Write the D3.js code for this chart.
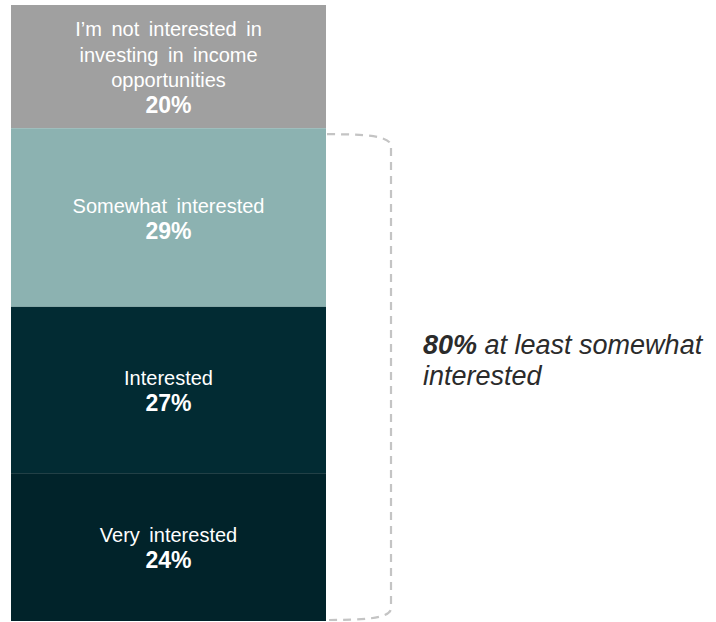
<!DOCTYPE html>
<html>
<head>
<meta charset="utf-8">
<script src="https://cdn.jsdelivr.net/npm/d3@7"></script>
<style>
  html, body { margin: 0; padding: 0; background: #ffffff; }
  svg { display: block; font-family: "Liberation Sans", Arial, Helvetica, sans-serif; }
</style>
</head>
<body>
<svg id="chart" width="716" height="622"></svg>
<script>
// Interest in income opportunities, stacked top to bottom
const categories = [
  "I’m not interested in investing in income opportunities",
  "Somewhat interested",
  "Interested",
  "Very interested"
];
const labelLines = [
  ["I’m not interested in", "investing in income", "opportunities"],
  ["Somewhat interested"],
  ["Interested"],
  ["Very interested"]
];
const shares = [20, 29, 27, 24];
const segmentColors = ["#a0a0a0", "#8cb2b1", "#022b33", "#01232a"];
const summaryValue = 80;
const summaryText = ["at least somewhat", "interested"];

const svg = d3.select("#chart");

const y = d3.scaleLinear().domain([0, 100]).range([5, 621]);
const x = d3.scaleBand().domain(["all"]).range([11, 326]).padding(0);

const ends = d3.cumsum(shares);
const segments = shares.map((v, i) => ({
  name: categories[i],
  lines: labelLines[i],
  value: v,
  start: ends[i] - v,
  end: ends[i],
  color: segmentColors[i]
}));

// stacked bar
svg.append("g").selectAll("rect")
  .data(segments)
  .join("rect")
  .attr("x", x("all"))
  .attr("width", x.bandwidth())
  .attr("y", d => y(d.start))
  .attr("height", d => y(d.end) - y(d.start))
  .attr("fill", d => d.color);

// segment labels: category lines plus bold percentage
const lineStep = 25.5;
const capH = 14;
const labels = svg.append("g").attr("fill", "#ffffff").attr("text-anchor", "middle");
segments.forEach(d => {
  const cx = x("all") + x.bandwidth() / 2;
  const cy = (y(d.start) + y(d.end)) / 2;
  const n = d.lines.length + 1;
  const first = cy - (n - 1) * lineStep / 2 + capH / 2 + 1;
  const t = labels.append("text");
  d.lines.forEach((ln, j) => {
    t.append("tspan")
      .attr("x", cx)
      .attr("y", first + j * lineStep)
      .attr("font-size", 20)
      .attr("word-spacing", 4)
      .text(ln);
  });
  t.append("tspan")
    .attr("x", cx)
    .attr("y", first + d.lines.length * lineStep + 0.5)
    .attr("font-size", 23)
    .attr("font-weight", "bold")
    .text(d.value + "%");
});

// dashed bracket around the interested segments
const bTop = y(shares[0]) + 6;
const bBot = y(100) - 1;
const bx0 = 327, bx1 = 391;
svg.append("path")
  .attr("d", `M${bx0},${bTop} C${bx0 + 35},${bTop} ${bx1},${bTop + 1} ${bx1},${bTop + 12}
              L${bx1},${bBot - 12} C${bx1},${bBot - 1} ${bx0 + 35},${bBot} ${bx0},${bBot}`)
  .attr("fill", "none")
  .attr("stroke", "#c4c4c4")
  .attr("stroke-width", 2.2)
  .attr("stroke-dasharray", "8,6");

// summary annotation
const noteSize = 27;
const note = svg.append("text")
  .attr("x", 423)
  .attr("y", 354)
  .attr("font-size", noteSize)
  .attr("font-style", "italic")
  .attr("fill", "#2b2b2b");
note.append("tspan").attr("font-weight", "bold").text(summaryValue + "%");
note.append("tspan").text(" " + summaryText[0]);
svg.append("text")
  .attr("x", 423)
  .attr("y", 385)
  .attr("font-size", noteSize)
  .attr("font-style", "italic")
  .attr("fill", "#2b2b2b")
  .text(summaryText[1]);
</script>
</body>
</html>
